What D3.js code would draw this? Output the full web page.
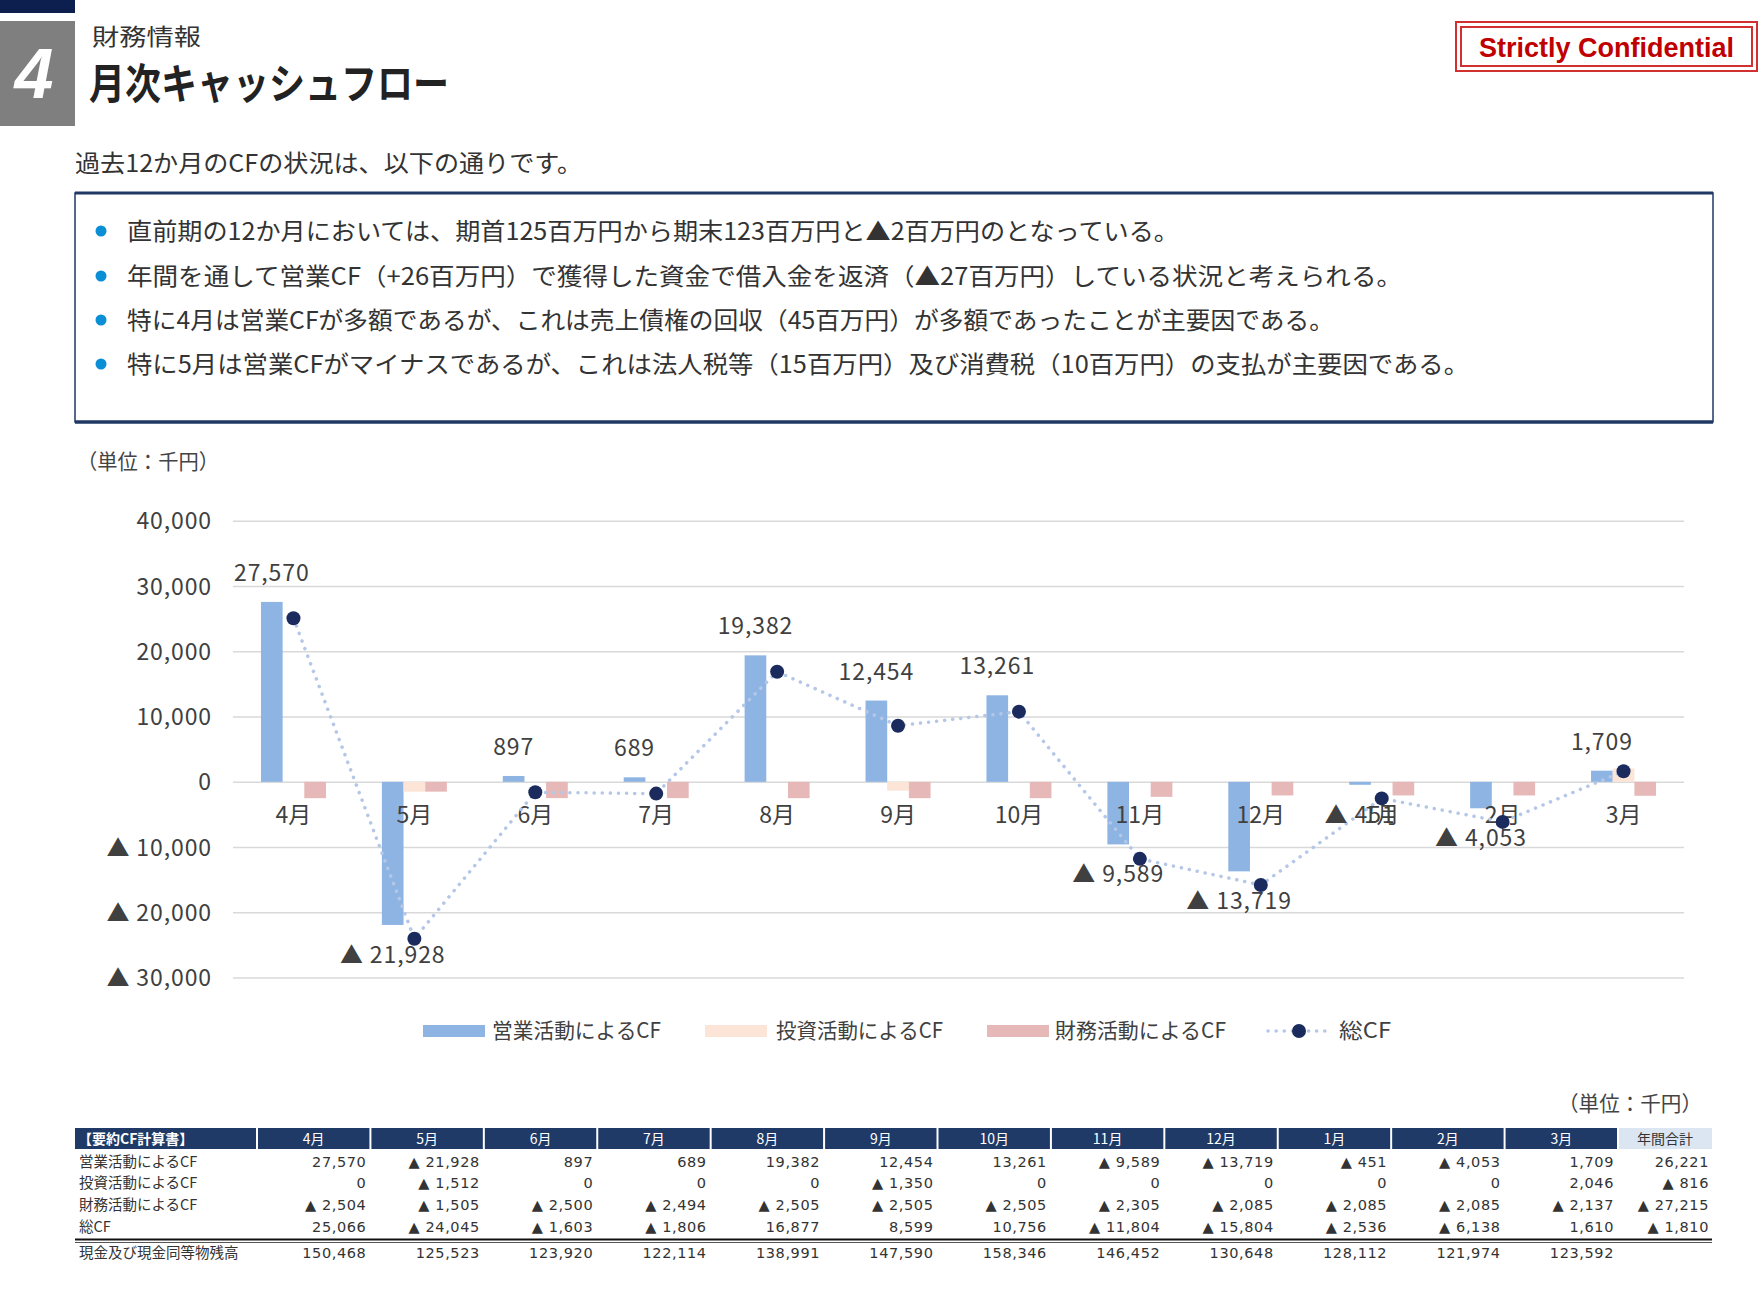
<!DOCTYPE html>
<html><head><meta charset="utf-8">
<script src="https://cdn.jsdelivr.net/npm/d3@7"></script>
<style>
body{margin:0;background:#fff;}
svg{display:block;}
</style></head>
<body>
<svg id="c" width="1760" height="1302"></svg>
<script>
// ---- data ----
const months = ["4月","5月","6月","7月","8月","9月","10月","11月","12月","1月","2月","3月"];
const operatingCF = [27570,-21928,897,689,19382,12454,13261,-9589,-13719,-451,-4053,1709];
const investingCF = [0,-1512,0,0,0,-1350,0,0,0,0,0,2046];
const financingCF = [-2504,-1505,-2500,-2494,-2505,-2505,-2505,-2305,-2085,-2085,-2085,-2137];
const totalCF = [25066,-24045,-1603,-1806,16877,8599,10756,-11804,-15804,-2536,-6138,1610];
const cashBalance = [150468,125523,123920,122114,138991,147590,158346,146452,130648,128112,121974,123592];
const annualTotals = [26221,-816,-27215,-1810,null];
const yTicks = [-30000,-20000,-10000,0,10000,20000,30000,40000];
const seriesNames = ["営業活動によるCF","投資活動によるCF","財務活動によるCF","総CF"];
const rowLabels = ["営業活動によるCF","投資活動によるCF","財務活動によるCF","総CF","現金及び現金同等物残高"];
const bullets = [
  "直前期の12か月においては、期首125百万円から期末123百万円と▲2百万円のとなっている。",
  "年間を通して営業CF（+26百万円）で獲得した資金で借入金を返済（▲27百万円）している状況と考えられる。",
  "特に4月は営業CFが多額であるが、これは売上債権の回収（45百万円）が多額であったことが主要因である。",
  "特に5月は営業CFがマイナスであるが、これは法人税等（15百万円）及び消費税（10百万円）の支払が主要因である。"
];

const JP = "'Noto Sans CJK JP','Noto Sans',sans-serif";
const fmt = v => v < 0 ? "▲ " + d3.format(",")(-v) : d3.format(",")(v);
const svg = d3.select("#c");

// ---- header ----
svg.append("rect").attr("x",0).attr("y",0).attr("width",75).attr("height",13).attr("fill","#0c1f4f");
svg.append("rect").attr("x",0).attr("y",21).attr("width",75).attr("height",105).attr("fill","#7f7f7f");
svg.append("text").attr("x",34).attr("y",98).attr("text-anchor","middle").attr("fill","#fff")
  .attr("font-family","'Liberation Sans',Arial,sans-serif").attr("font-weight","bold").attr("font-style","italic")
  .attr("font-size",70).text("4");
svg.append("text").attr("x",92).attr("y",45).attr("font-family",JP).attr("font-size",23).attr("fill","#333")
  .attr("textLength",109).attr("lengthAdjust","spacingAndGlyphs").text("財務情報");
svg.append("text").attr("x",89).attr("y",99).attr("font-family",JP).attr("font-size",42).attr("font-weight","bold").attr("fill","#222")
  .attr("textLength",360).attr("lengthAdjust","spacingAndGlyphs").text("月次キャッシュフロー");

// Strictly Confidential
svg.append("rect").attr("x",1456).attr("y",22).attr("width",301).attr("height",49).attr("fill","none").attr("stroke","#d03030").attr("stroke-width",2);
svg.append("rect").attr("x",1461).attr("y",27).attr("width",291).attr("height",39).attr("fill","none").attr("stroke","#d03030").attr("stroke-width",2);
svg.append("text").attr("x",1479).attr("y",57).attr("font-family","'Liberation Sans',Arial,sans-serif").attr("font-weight","bold")
  .attr("font-size",28).attr("fill","#c00000").attr("textLength",255).attr("lengthAdjust","spacingAndGlyphs").text("Strictly Confidential");

svg.append("text").attr("x",75).attr("y",172).attr("font-family",JP).attr("font-size",24).attr("fill","#333")
  .attr("textLength",507).attr("lengthAdjust","spacingAndGlyphs").text("過去12か月のCFの状況は、以下の通りです。");

// ---- text box ----
svg.append("rect").attr("x",75).attr("y",193).attr("width",1638).attr("height",229).attr("fill","#fff").attr("stroke","#1f3864").attr("stroke-width",1.5);
svg.append("line").attr("x1",75).attr("x2",1713).attr("y1",193).attr("y2",193).attr("stroke","#1f3864").attr("stroke-width",3);
svg.append("line").attr("x1",75).attr("x2",1713).attr("y1",422).attr("y2",422).attr("stroke","#1f3864").attr("stroke-width",3.5);
const bulletY = [231,276,320,364];
const bulletW = [1052,1275,1207,1342];
bullets.forEach((t,i)=>{
  svg.append("circle").attr("cx",101).attr("cy",bulletY[i]).attr("r",5.5).attr("fill","#0a8ed6");
  svg.append("text").attr("x",127).attr("y",bulletY[i]+9).attr("font-family",JP).attr("font-size",24).attr("fill","#333")
    .attr("textLength",bulletW[i]).attr("lengthAdjust","spacingAndGlyphs").text(t);
});

// ---- chart ----
svg.append("text").attr("x",77).attr("y",469).attr("font-family",JP).attr("font-size",21).attr("fill","#444")
  .attr("textLength",142).attr("lengthAdjust","spacingAndGlyphs").text("（単位：千円）");

const x0 = 233, x1 = 1684;
const x = d3.scaleBand().domain(months).range([x0,x1]).padding(0);
const bw = x.bandwidth();
const xs = d3.scaleBand().domain(["op","inv","fin"]).range([bw/2-32.5, bw/2+32.5]).padding(0);
const y = d3.scaleLinear().domain([-30000,40000]).range([977.6,520.8]);
const CF = 23, LS = 0.9;

// grid
const grid = svg.append("g").attr("transform",`translate(${x0},0)`)
  .call(d3.axisLeft(y).tickValues(yTicks).tickSize(-(x1-x0)).tickFormat(""));
grid.select(".domain").remove();
grid.selectAll(".tick line").attr("stroke","#d9d9d9").attr("stroke-width",1.5);

// y labels
const ya = svg.append("g").attr("transform",`translate(${x0},0)`)
  .call(d3.axisLeft(y).tickValues(yTicks).tickSize(0).tickPadding(21).tickFormat(fmt));
ya.select(".domain").remove();
ya.selectAll("text").attr("font-family",JP).attr("font-size",CF).attr("letter-spacing",LS).attr("fill","#404040").attr("dy","0.35em");

const colors = {op:"#8db4e2", inv:"#fce4d6", fin:"#e6b8b7"};
const series = [["op",operatingCF],["inv",investingCF],["fin",financingCF]];
series.forEach(([k,vals])=>{
  svg.append("g").selectAll("rect").data(vals).join("rect")
    .attr("x",(d,i)=>x(months[i])+xs(k))
    .attr("width",xs.bandwidth())
    .attr("y",d=>y(Math.max(0,d)))
    .attr("height",d=>Math.abs(y(d)-y(0)))
    .attr("fill",colors[k]);
});

// month labels
const xa = svg.append("g").attr("transform",`translate(0,${y(0)})`)
  .call(d3.axisBottom(x).tickSize(0).tickPadding(25));
xa.select(".domain").remove();
xa.selectAll("text").attr("font-family",JP).attr("font-size",CF).attr("fill","#404040");

// total line
const line = d3.line().x((d,i)=>x(months[i])+bw/2).y(d=>y(d));
svg.append("path").datum(totalCF).attr("d",line).attr("fill","none").attr("stroke","#b4c7e7")
  .attr("stroke-width",3.5).attr("stroke-linecap","round").attr("stroke-dasharray","0.1 8");
svg.append("g").selectAll("circle").data(totalCF).join("circle")
  .attr("cx",(d,i)=>x(months[i])+bw/2).attr("cy",d=>y(d)).attr("r",7).attr("fill","#1c2b5e");

// data labels (operating)
svg.append("g").selectAll("text").data(operatingCF).join("text")
  .attr("x",(d,i)=>x(months[i])+xs("op")+xs.bandwidth()/2)
  .attr("y",d=> d>=0 ? y(d)-21 : y(d)+38)
  .attr("text-anchor","middle").attr("font-family",JP).attr("font-size",CF).attr("letter-spacing",LS).attr("fill","#404040")
  .text(fmt);

// legend
const lg = svg.append("g");
const legItems = [
  {name:seriesNames[0], c:colors.op, x:423, tx:492, tw:169},
  {name:seriesNames[1], c:colors.inv, x:705, tx:776, tw:167},
  {name:seriesNames[2], c:colors.fin, x:987, tx:1055, tw:171}
];
legItems.forEach(it=>{
  lg.append("rect").attr("x",it.x).attr("y",1025).attr("width",62).attr("height",12).attr("fill",it.c);
  lg.append("text").attr("x",it.tx).attr("y",1038).attr("font-family",JP).attr("font-size",21).attr("fill","#404040")
    .attr("textLength",it.tw).attr("lengthAdjust","spacingAndGlyphs").text(it.name);
});
lg.append("line").attr("x1",1268).attr("x2",1330).attr("y1",1031).attr("y2",1031).attr("stroke","#b4c7e7")
  .attr("stroke-width",3.5).attr("stroke-linecap","round").attr("stroke-dasharray","0.1 8");
lg.append("circle").attr("cx",1299).attr("cy",1031).attr("r",7).attr("fill","#1c2b5e");
lg.append("text").attr("x",1339).attr("y",1038).attr("font-family",JP).attr("font-size",21).attr("fill","#404040")
  .attr("textLength",52).attr("lengthAdjust","spacingAndGlyphs").text(seriesNames[3]);

// ---- table ----
svg.append("text").attr("x",1558).attr("y",1111).attr("font-family",JP).attr("font-size",21).attr("fill","#444")
  .attr("textLength",144).attr("lengthAdjust","spacingAndGlyphs").text("（単位：千円）");

const tX0 = 75, tC0 = 257, colW = (1618-257)/12, tEnd = 1712;
const hdrY = 1128, hdrH = 21;
svg.append("rect").attr("x",tX0).attr("y",hdrY).attr("width",1618-tX0).attr("height",hdrH).attr("fill","#1f3a66");
svg.append("rect").attr("x",1618).attr("y",hdrY).attr("width",tEnd-1618).attr("height",hdrH).attr("fill","#dce6f2");
const colX = i => tC0 + i*colW;
for(let i=0;i<=12;i++){
  svg.append("line").attr("x1",colX(i)).attr("x2",colX(i)).attr("y1",hdrY).attr("y2",hdrY+hdrH).attr("stroke","#fff").attr("stroke-width",2);
}
const TF = "'Noto Sans CJK JP',sans-serif";
svg.append("text").attr("x",78).attr("y",hdrY+16).attr("font-family",TF).attr("font-size",14).attr("font-weight","bold").attr("fill","#fff").text("【要約CF計算書】");
months.forEach((m,i)=>{
  svg.append("text").attr("x",colX(i)+colW/2).attr("y",hdrY+16).attr("text-anchor","middle").attr("font-family",TF).attr("font-size",14).attr("fill","#fff").text(m);
});
svg.append("text").attr("x",(1618+tEnd)/2).attr("y",hdrY+16).attr("text-anchor","middle").attr("font-family",TF).attr("font-size",14).attr("fill","#333").text("年間合計");

const rows = [operatingCF, investingCF, financingCF, totalCF, cashBalance];
const rowY = [1167,1188,1210,1232,1258];
const NF = "'DejaVu Sans',sans-serif";
rows.forEach((vals,r)=>{
  svg.append("text").attr("x",79).attr("y",rowY[r]).attr("font-family",TF).attr("font-size",14.5).attr("fill","#333").text(rowLabels[r]);
  vals.forEach((v,i)=>{
    svg.append("text").attr("x",colX(i+1)-4).attr("y",rowY[r]).attr("text-anchor","end")
      .attr("font-family",NF).attr("font-size",14.5).attr("letter-spacing",0.6).attr("fill","#333").text(fmt(v));
  });
  if(annualTotals[r]!==null){
    svg.append("text").attr("x",tEnd-3).attr("y",rowY[r]).attr("text-anchor","end")
      .attr("font-family",NF).attr("font-size",14.5).attr("letter-spacing",0.6).attr("fill","#333").text(fmt(annualTotals[r]));
  }
});
svg.append("line").attr("x1",tX0).attr("x2",tEnd).attr("y1",1239.5).attr("y2",1239.5).attr("stroke","#111").attr("stroke-width",2);
svg.append("line").attr("x1",tX0).attr("x2",tEnd).attr("y1",1242.5).attr("y2",1242.5).attr("stroke","#555").attr("stroke-width",1);
</script>
</body></html>
